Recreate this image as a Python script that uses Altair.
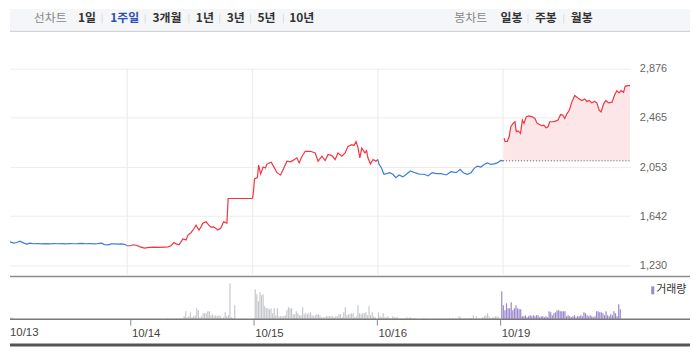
import json
import altair as alt
import pandas as pd

# ---------------- data ----------------
DATES = ["10/13", "10/14", "10/15", "10/16", "10/19"]
DAY_DIRECTION = ["down", "up", "up", "down", "up"]
PREV_CLOSE = 2105
Y_TICKS = [1230, 1642, 2053, 2465, 2876]

LINE_MENU_TITLE = "선차트"
LINE_MENU = ["1일", "1주일", "3개월", "1년", "3년", "5년", "10년"]
SELECTED = "1주일"
CANDLE_MENU_TITLE = "봉차트"
CANDLE_MENU = ["일봉", "주봉", "월봉"]
VOLUME_LABEL = "거래량"

# price points: minutes after the 09:00 open, and price
D1_MIN = [0, 9, 15, 25, 37, 46, 56, 68, 77, 87, 99, 111, 124, 136, 149, 161, 173, 186, 198, 210,
          223, 235, 248, 260, 272, 285, 297, 310, 319, 331, 340, 350, 362, 371, 381, 390]
D1_PRICE = [1417, 1436, 1422, 1428, 1417, 1422, 1433, 1417, 1409, 1417, 1412, 1414, 1411, 1413, 1411,
            1414, 1412, 1413, 1411, 1414, 1412, 1413, 1415, 1412, 1414, 1411, 1413, 1417, 1405, 1403,
            1410, 1411, 1409, 1410, 1407, 1395]
D2_MIN = [9, 18, 28, 40, 53, 68, 84, 99, 115, 127, 136, 145, 152, 161, 173, 183, 189, 198, 207, 214,
          223, 229, 235, 245, 254, 260, 269, 282, 291, 300, 310, 314, 337, 362, 390]
D2_PRICE = [1395, 1403, 1399, 1386, 1376, 1382, 1384, 1382, 1384, 1386, 1395, 1422, 1411, 1403, 1452,
            1444, 1485, 1504, 1535, 1567, 1526, 1551, 1584, 1595, 1567, 1551, 1553, 1526, 1543, 1595,
            1584, 1790, 1790, 1790, 1790]
D3_MIN = [3, 6, 15, 19, 25, 33, 40, 45, 58, 65, 76, 87, 96, 107, 118, 127, 138, 145, 154, 164, 180,
          195, 204, 216, 226, 235, 247, 257, 266, 278, 288, 297, 309, 316, 322, 328, 334, 340, 350,
          355, 359, 367, 375, 384, 390]
D3_PRICE = [1855, 1954, 1965, 2069, 1995, 2053, 2045, 2078, 2094, 2061, 2006, 1987, 2037, 2102, 2097,
            2111, 2130, 2088, 2144, 2185, 2185, 2171, 2102, 2144, 2108, 2158, 2149, 2116, 2171, 2144,
            2171, 2226, 2240, 2234, 2267, 2218, 2130, 2212, 2171, 2190, 2130, 2080, 2116, 2102, 2116]
D4_MIN = [4, 11, 19, 27, 37, 47, 56, 66, 78, 89, 101, 115, 130, 145, 156, 169, 182, 197, 213, 228,
          244, 256, 266, 279, 290, 300, 310, 321, 331, 341, 352, 362, 372, 383, 390]
D4_PRICE = [2075, 2047, 1993, 1998, 2006, 1993, 1965, 1987, 1971, 1993, 2020, 2006, 1993, 1993, 1979,
            2006, 1998, 1998, 1987, 2014, 2006, 2034, 2006, 1993, 2006, 2042, 2061, 2053, 2075, 2088,
            2075, 2080, 2088, 2108, 2105]
D5_MIN = [3, 6, 13, 19, 24, 31, 37, 41, 47, 54, 60, 65, 72, 80, 91, 99, 106, 114, 120, 127, 134, 140,
          145, 155, 163, 171, 179, 186, 192, 199, 206, 214, 223, 230, 237, 245, 254, 261, 268, 276,
          285, 292, 299, 305, 313, 320, 328, 339, 347, 354, 361, 367, 375, 380, 388, 395]
D5_PRICE = [2294, 2267, 2267, 2308, 2390, 2418, 2432, 2349, 2355, 2335, 2446, 2418, 2473, 2481, 2473,
            2459, 2418, 2409, 2399, 2404, 2382, 2390, 2432, 2432, 2437, 2446, 2492, 2487, 2459, 2500,
            2528, 2596, 2651, 2637, 2623, 2610, 2623, 2602, 2610, 2590, 2602, 2590, 2528, 2514, 2582,
            2610, 2590, 2596, 2656, 2692, 2673, 2692, 2678, 2728, 2734, 2734]

# volume: 5-minute bars (thousand shares), 78 per session
V1 = [0, 1.5, 2, 1, 0, 0, 0, 0, 0, 0, 0, 0, 0, 0, 0, 0, 0, 0, 0, 0,
      0, 0, 0, 0, 0, 0, 0, 0, 0, 0, 0, 0, 0, 0, 0, 0, 0, 0, 0, 0,
      0, 0, 0, 0, 0, 0, 0, 0, 0, 0, 0, 0, 0, 0, 0, 0, 0, 0, 0, 0,
      0, 0, 0, 0, 0, 0, 0, 0, 0, 0, 0, 0, 0, 0, 0, 0, 0, 0]
V2 = [0, 0, 0, 0, 0, 0, 0, 0, 0, 0, 0, 0, 0, 0, 0, 0, 0, 0, 0, 0,
      0, 0, 1, 0, 0, 0, 0, 0, 1, 0, 0, 1, 0, 3, 8, 2, 3, 7, 2, 3,
      4, 11, 9, 2, 3, 6, 6, 6, 8, 8, 4, 5, 3, 4, 3, 4, 3, 1, 2, 7,
      3, 4, 36, 2, 1, 14, 0, 0, 0, 0, 0, 0, 0, 0, 0, 0, 0, 0]
V3 = [30, 25, 18, 27, 24, 25, 13, 11, 11, 10, 11, 6, 11, 4, 11, 3, 3, 3, 3, 4,
      9, 12, 11, 11, 5, 5, 8, 6, 4, 4, 12, 5, 6, 5, 6, 7, 4, 3, 4, 5,
      5, 4, 2, 2, 2, 3, 3, 3, 3, 3, 2, 3, 3, 5, 5, 2, 7, 12, 4, 5,
      5, 6, 6, 2, 3, 14, 6, 5, 6, 6, 7, 4, 13, 4, 7, 3, 2, 0]
V4 = [7, 3, 2, 6, 2, 2, 3, 1, 1, 3, 2, 2, 2, 1, 1, 0, 1, 1, 2, 1,
      2, 1, 1, 1, 0, 0, 0, 0, 1, 0, 1, 0, 0, 0, 0, 0, 0, 0, 0, 0,
      0, 0, 0, 0, 0, 1, 0, 1, 0, 1, 0, 3, 2, 0, 1, 1, 0, 1, 1, 1,
      4, 0, 3, 1, 1, 1, 2, 3, 4, 6, 3, 1, 2, 2, 3, 3, 2, 0]
V5 = [28, 14, 9, 16, 11, 11, 17, 9, 11, 14, 11, 10, 10, 3, 3, 4, 2, 3, 4, 3,
      4, 3, 4, 4, 2, 3, 3, 2, 3, 2, 8, 7, 4, 6, 7, 9, 9, 8, 8, 8,
      8, 3, 4, 3, 2, 3, 4, 2, 3, 3, 4, 3, 7, 6, 4, 3, 4, 3, 2, 3,
      8, 8, 7, 7, 6, 4, 8, 4, 3, 5, 4, 8, 6, 3, 15, 10, 0, 0]

PRICE_MIN = [D1_MIN, D2_MIN, D3_MIN, D4_MIN, D5_MIN]
PRICE_VAL = [D1_PRICE, D2_PRICE, D3_PRICE, D4_PRICE, D5_PRICE]
VOLUMES = [V1, V2, V3, V4, V5]

# ---------------- style / layout ----------------
SESSION = 390
BAR_MIN = 5
X_DOMAIN = [8 / 126, 632 / 126]      # the page margin hides the first 8px of 10/13
UP = "#f2353f"
DOWN = "#3b7ddd"
VOL_PAST = "#c6c8cc"
VOL_TODAY = "#9b87cf"
FULL_W = 684
W_PLOT = 624
H_HEAD = 23
H_PRICE = 244
H_VOL = 44
Y_DOMAIN = [1155.2, 3183.6]
AXIS_FONT = "Liberation Sans"

price_rows = []
for d in range(5):
    col = UP if DAY_DIRECTION[d] == "up" else DOWN
    if d in (1, 2, 3):
        price_rows.append({"t": float(d), "price": PRICE_VAL[d - 1][-1], "seg": d, "col": col})
    for m, p in zip(PRICE_MIN[d], PRICE_VAL[d]):
        price_rows.append({"t": d + m / SESSION, "price": p, "seg": d, "col": col})
price_df = pd.DataFrame(price_rows)
area_df = price_df[price_df.seg == 4].copy()
area_df["base"] = PREV_CLOSE

vol_rows = []
for d, vals in enumerate(VOLUMES):
    col = VOL_TODAY if d == 4 else VOL_PAST
    for i, v in enumerate(vals):
        if v > 0:
            vol_rows.append({"t": d + BAR_MIN * (i + 1) / SESSION, "vol": v, "col": col})
vol_df = pd.DataFrame(vol_rows)

xs = alt.Scale(domain=X_DOMAIN, nice=False, zero=False)
ys = alt.Scale(domain=Y_DOMAIN, nice=False, zero=False)
yaxis = alt.Axis(orient="right", values=Y_TICKS, format=",.0f", labelFont=AXIS_FONT,
                 labelFontSize=11, labelColor="#666", ticks=False, domain=False, grid=True,
                 gridColor="#ececec", gridWidth=1, labelPadding=9, title=None)
one = pd.DataFrame({"k": [0]})

# ---------------- header ----------------
hdr = [
    alt.Chart(one).mark_rect(color="#f5f6f8").encode(
        x=alt.value(0), x2=alt.value(FULL_W), y=alt.value(0), y2=alt.value(H_HEAD)),
    alt.Chart(one).mark_rule(color="#cdced1", strokeWidth=1).encode(
        x=alt.value(0), x2=alt.value(FULL_W), y=alt.value(H_HEAD - 0.5)),
]
left_x = [40.5, 77.5, 115.5, 158, 196, 227, 258, 293.5]
right_x = [463.5, 504.5, 539, 575]
sep_left = [92.7, 136, 180, 211, 242, 275]
sep_right = [521, 557]
items = [(LINE_MENU_TITLE, left_x[0], "normal", "#888")]
for lab, x in zip(LINE_MENU, left_x[1:]):
    items.append((lab, x, "bold", "#2c4fb7" if lab == SELECTED else "#333"))
items.append((CANDLE_MENU_TITLE, right_x[0], "normal", "#888"))
for lab, x in zip(CANDLE_MENU, right_x[1:]):
    items.append((lab, x, "bold", "#333"))
for lab, x, w, c in items:
    hdr.append(alt.Chart(pd.DataFrame({"label": [lab]})).mark_text(
        font="Noto Sans CJK KR", fontSize=12, fontWeight=w, color=c, align="center",
        baseline="middle").encode(text="label:N", x=alt.value(x), y=alt.value(9.5)))
for x in sep_left + sep_right:
    hdr.append(alt.Chart(one).mark_rule(color="#dcdcdc", strokeWidth=1).encode(
        x=alt.value(x), y=alt.value(5), y2=alt.value(14.5)))
header = alt.layer(*hdr).properties(width=FULL_W, height=H_HEAD)

# ---------------- price panel ----------------
vgrid = alt.Chart(pd.DataFrame({"t": [1, 2, 3, 4], "top": [Y_TICKS[-1]] * 4})).mark_rule(
    color="#ebebeb", strokeWidth=1).encode(
    x=alt.X("t:Q", scale=xs, axis=None),
    y=alt.Y("top:Q", scale=ys, axis=yaxis),
    y2=alt.value(H_PRICE))
area = alt.Chart(area_df).mark_area(color="#fde6e8", clip=True).encode(
    x=alt.X("t:Q", scale=xs, axis=None),
    y=alt.Y("price:Q", scale=ys, axis=yaxis), y2="base:Q")
prev = alt.Chart(pd.DataFrame({"t": [4.0], "t2": [X_DOMAIN[1]], "p": [PREV_CLOSE]})).mark_rule(
    color="#555", strokeDash=[1, 2], strokeWidth=1).encode(
    x=alt.X("t:Q", scale=xs, axis=None), x2="t2:Q",
    y=alt.Y("p:Q", scale=ys, axis=yaxis))
line = alt.Chart(price_df).mark_line(strokeWidth=1.2, clip=True).encode(
    x=alt.X("t:Q", scale=xs, axis=None),
    y=alt.Y("price:Q", scale=ys, axis=yaxis),
    color=alt.Color("col:N", scale=None),
    detail="seg:N")
price = alt.layer(vgrid, area, prev, line).properties(width=W_PLOT, height=H_PRICE)

# ---------------- volume panel ----------------
xaxis = alt.Axis(values=[1, 2, 3, 4], labelExpr=json.dumps(DATES) + "[datum.value]",
                 tickSize=6, tickColor="#8a8a8a", tickWidth=1, domain=False, grid=False,
                 labelAlign="left", labelBaseline="top", labelPadding=2, labelOffset=1,
                 labelFont=AXIS_FONT, labelFontSize=11.5, labelColor="#444",
                 labelFlush=False, labelOverlap=False, title=None)
sep = alt.Chart(one).mark_rule(color="#8c8c8c", strokeWidth=1.5).encode(
    x=alt.value(0), x2=alt.value(FULL_W), y=alt.value(1))
bars = alt.Chart(vol_df).mark_bar(size=1.2, clip=True).encode(
    x=alt.X("t:Q", scale=xs, axis=xaxis),
    y=alt.Y("vol:Q", scale=alt.Scale(domain=[0, H_VOL]), axis=None),
    color=alt.Color("col:N", scale=None))
base = alt.Chart(one).mark_rule(color="#7a7a7a", strokeWidth=1.5).encode(
    x=alt.value(0), x2=alt.value(FULL_W), y=alt.value(H_VOL))
first_label = alt.Chart(pd.DataFrame({"label": [DATES[0]]})).mark_text(
    font=AXIS_FONT, fontSize=11.5, color="#444", align="left", baseline="top").encode(
    text="label:N", x=alt.value(0), y=alt.value(H_VOL + 8))
leg_box = alt.Chart(one).mark_rect(color=VOL_TODAY).encode(
    x=alt.value(645), x2=alt.value(648), y=alt.value(11), y2=alt.value(19))
leg_txt = alt.Chart(pd.DataFrame({"label": [VOLUME_LABEL]})).mark_text(
    font="Noto Sans CJK KR", fontSize=11, color="#333", align="left", baseline="middle").encode(
    text="label:N", x=alt.value(650), y=alt.value(15))
bottom = alt.Chart(one).mark_rule(color="#555", strokeWidth=3).encode(
    x=alt.value(0), x2=alt.value(FULL_W), y=alt.value(70))
volume = alt.layer(sep, bars, base, first_label, leg_box, leg_txt, bottom).properties(
    width=W_PLOT, height=H_VOL)

chart = alt.vconcat(header, price, volume, spacing=0, padding=0).configure_view(strokeWidth=0)
chart.save("out.html", embed_options={"renderer": "svg", "actions": False})
